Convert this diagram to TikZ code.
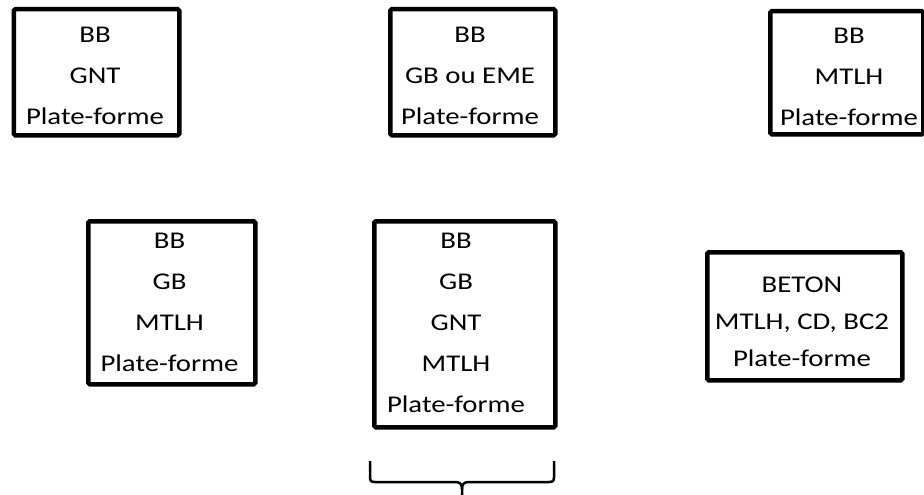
\documentclass[tikz,border=0pt]{standalone}
\usepackage{fontspec}
\setmainfont[FakeStretch=1.2]{Carlito}
\begin{document}
\begin{tikzpicture}[x=1pt,y=-1pt,
  frame/.style={draw=black, line width=4.5pt, rounded corners=1.5pt, anchor=north west, inner sep=0pt, minimum width=#1},
  lbl/.style={anchor=north, inner sep=0pt, align=center, font=\fontsize{24}{41}\selectfont},
  braceline/.style={draw=black, line width=2.5pt, line cap=butt, line join=round}
  ]
\useasboundingbox (0,0) rectangle (924,495);
% frames
\node[frame=165.5pt, minimum height=126pt] (b1) at (11.5,7) {};
\node[frame=165pt, minimum height=126pt] (b2) at (388,7) {};
\node[frame=153pt, minimum height=123pt] (b3) at (768,9) {};
\node[frame=167pt, minimum height=163pt] (b4) at (86,219) {};
\node[frame=181pt, minimum height=206pt] (b5) at (372,219) {};
\node[frame=195pt, minimum height=128pt] (b6) at (705,250) {};
% texts
\node[lbl] (t1) at (95,27) {BB\\GNT\\Plate-forme};
\node[lbl] (t2) at (470,27) {BB\\GB ou EME\\Plate-forme};
\node[lbl] (t3) at (849,28) {BB\\MTLH\\Plate-forme};
\node[lbl] (t4) at (169.5,233) {BB\\GB\\MTLH\\Plate-forme};
\node[lbl] (t5) at (456,233) {BB\\GB\\GNT\\MTLH\\Plate-forme};
\node[lbl, font=\fontsize{24}{37}\selectfont] (t6) at (802,277) {BETON\\MTLH, CD, BC2\\Plate-forme};
% brace
\coordinate (brl) at (370,461);
\coordinate (brr) at (554,461);
\coordinate (brt) at (462,497);
\draw[braceline] (brl) -- (370,477) .. controls (370,481) and (371,482) .. (375,482) -- (455,482)
  .. controls (460,482) and (462,484) .. (462,489) -- (brt);
\draw[braceline] (brr) -- (554,477) .. controls (554,481) and (553,482) .. (549,482) -- (469,482)
  .. controls (464,482) and (462,484) .. (462,489);
\end{tikzpicture}
\end{document}
